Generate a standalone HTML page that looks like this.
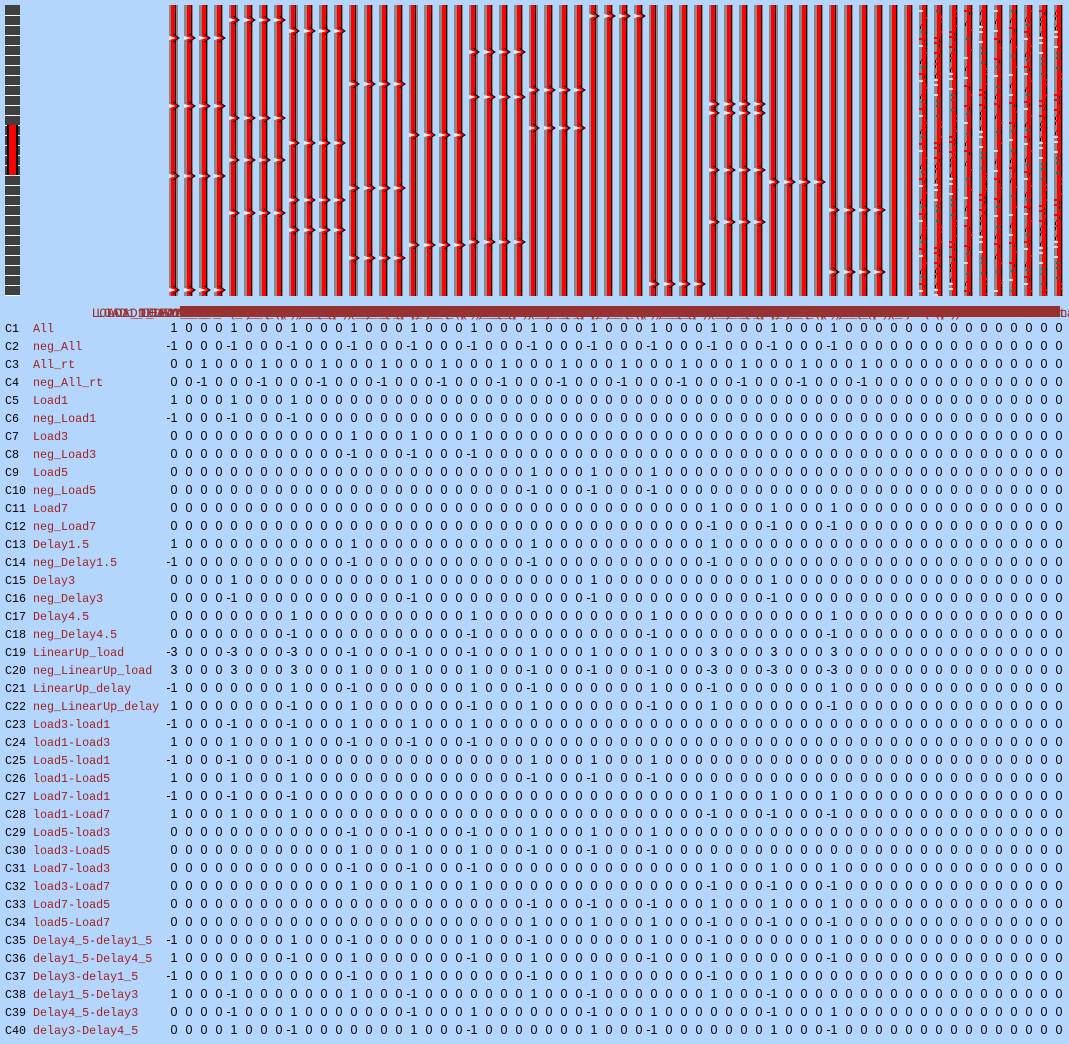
<!DOCTYPE html>
<html><head><meta charset="utf-8"><style>
html,body{margin:0;padding:0;background:#b4d6fc;width:1069px;height:1044px;overflow:hidden}
svg{display:block}
</style></head><body>
<svg id="chart" width="1069" height="1044" viewBox="0 0 1069 1044" xmlns="http://www.w3.org/2000/svg">
<rect x="0" y="0" width="1069" height="1044" fill="#b4d6fc"/>
<g id="leftbar"></g>
<g id="dm"></g>
<g id="hdr"></g>
<g id="tbl"></g>
</svg>
<script>
const contrastNames = ["All","neg_All","All_rt","neg_All_rt","Load1","neg_Load1","Load3","neg_Load3","Load5","neg_Load5","Load7","neg_Load7","Delay1.5","neg_Delay1.5","Delay3","neg_Delay3","Delay4.5","neg_Delay4.5","LinearUp_load","neg_LinearUp_load","LinearUp_delay","neg_LinearUp_delay","Load3-load1","load1-Load3","Load5-load1","load1-Load5","Load7-load1","load1-Load7","Load5-load3","load3-Load5","Load7-load3","load3-Load7","Load7-load5","load5-Load7","Delay4_5-delay1_5","delay1_5-Delay4_5","Delay3-delay1_5","delay1_5-Delay3","Delay4_5-delay3","delay3-Delay4_5"];
// condition weights (12 conditions, placed on column 4k)
const condWeights = [
[1,1,1,1,1,1,1,1,1,1,1,1],[-1,-1,-1,-1,-1,-1,-1,-1,-1,-1,-1,-1],
[0,0,0,0,0,0,0,0,0,0,0,0],[0,0,0,0,0,0,0,0,0,0,0,0],
[1,1,1,0,0,0,0,0,0,0,0,0],[-1,-1,-1,0,0,0,0,0,0,0,0,0],
[0,0,0,1,1,1,0,0,0,0,0,0],[0,0,0,-1,-1,-1,0,0,0,0,0,0],
[0,0,0,0,0,0,1,1,1,0,0,0],[0,0,0,0,0,0,-1,-1,-1,0,0,0],
[0,0,0,0,0,0,0,0,0,1,1,1],[0,0,0,0,0,0,0,0,0,-1,-1,-1],
[1,0,0,1,0,0,1,0,0,1,0,0],[-1,0,0,-1,0,0,-1,0,0,-1,0,0],
[0,1,0,0,1,0,0,1,0,0,1,0],[0,-1,0,0,-1,0,0,-1,0,0,-1,0],
[0,0,1,0,0,1,0,0,1,0,0,1],[0,0,-1,0,0,-1,0,0,-1,0,0,-1],
[-3,-3,-3,-1,-1,-1,1,1,1,3,3,3],[3,3,3,1,1,1,-1,-1,-1,-3,-3,-3],
[-1,0,1,-1,0,1,-1,0,1,-1,0,1],[1,0,-1,1,0,-1,1,0,-1,1,0,-1],
[-1,-1,-1,1,1,1,0,0,0,0,0,0],[1,1,1,-1,-1,-1,0,0,0,0,0,0],
[-1,-1,-1,0,0,0,1,1,1,0,0,0],[1,1,1,0,0,0,-1,-1,-1,0,0,0],
[-1,-1,-1,0,0,0,0,0,0,1,1,1],[1,1,1,0,0,0,0,0,0,-1,-1,-1],
[0,0,0,-1,-1,-1,1,1,1,0,0,0],[0,0,0,1,1,1,-1,-1,-1,0,0,0],
[0,0,0,-1,-1,-1,0,0,0,1,1,1],[0,0,0,1,1,1,0,0,0,-1,-1,-1],
[0,0,0,0,0,0,-1,-1,-1,1,1,1],[0,0,0,0,0,0,1,1,1,-1,-1,-1],
[-1,0,1,-1,0,1,-1,0,1,-1,0,1],[1,0,-1,1,0,-1,1,0,-1,1,0,-1],
[-1,1,0,-1,1,0,-1,1,0,-1,1,0],[1,-1,0,1,-1,0,1,-1,0,1,-1,0],
[0,-1,1,0,-1,1,0,-1,1,0,-1,1],[0,1,-1,0,1,-1,0,1,-1,0,1,-1]
];
// rt regressor weights (column 4k+2), only for All_rt / neg_All_rt
const rtWeights = [0,0,1,-1,0,0,0,0,0,0,0,0,0,0,0,0,0,0,0,0,0,0,0,0,0,0,0,0,0,0,0,0,0,0,0,0,0,0,0,0];
const nCols = 60;
const condLabels = ["LOAD1_DELAY1_5","LOAD1_DELAY3","LOAD1_DELAY4_5","LOAD3_DELAY1_5","LOAD3_DELAY3","LOAD3_DELAY4_5","LOAD5_DELAY1_5","LOAD5_DELAY3","LOAD5_DELAY4_5","LOAD7_DELAY1_5","LOAD7_DELAY3","LOAD7_DELAY4_5"];
const eventTimes = [[38,106,176,290],[20,118,160,213],[31,143,200,230],[84,188,258],[135,245],[52,97,242],[90,128],[16],[284],[104,113,170,222],[182],[210,272]];

const NS="http://www.w3.org/2000/svg";
function mk(tag,attrs,parent){const e=document.createElementNS(NS,tag);for(const k in attrs)e.setAttribute(k,attrs[k]);parent.appendChild(e);return e;}
const colX = i => 174 + 15*i;
const rowY = r => 328 + 18*r;

// left selector bar
const lb=document.getElementById('leftbar');
mk('rect',{x:5,y:5,width:15,height:291,fill:'#404040'},lb);
for(let y=15;y<296;y+=10) mk('rect',{x:5,y:y,width:15,height:1,fill:'#ffffff'},lb);
mk('rect',{x:7,y:125,width:11,height:50,fill:'#000'},lb);
mk('rect',{x:9,y:125,width:7,height:50,fill:'#ff0000'},lb);

// design matrix
const dm=document.getElementById('dm');
for(let i=0;i<nCols;i++){
  const x=colX(i)-5;
  const g=mk('g',{},dm);
  
  
  mk('rect',{x:x,y:5,width:9,height:291,fill:'#888888'},g);
  if(i<48){
    const k=Math.floor(i/4);
    const off = (i%4===0)?2:3;
    mk('rect',{x:x+off,y:5,width:4,height:291,fill:'#ff0000'},g);
    mk('rect',{x:x+off+4,y:5,width:1,height:291,fill:'#000'},g);
    eventTimes[k].forEach(t=>{
      mk('polygon',{points:`${x},${t-2} ${x+8},${t} ${x},${t+2}`,fill:'#e8e8e8'},g);
      mk('path',{d:`M${x+off} ${t-4} L${x+off+6} ${t} L${x+off} ${t+4}`,stroke:'#ff0000','stroke-width':2,fill:'none'},g);
      mk('path',{d:`M${x+off+2} ${t-4} L${x+off+8} ${t} L${x+off+2} ${t+4}`,stroke:'#000','stroke-width':1,fill:'none'},g);
    });
  } else {
    mk('rect',{x:x+3,y:5,width:4,height:291,fill:'#ff0000'},g);
    mk('rect',{x:x+7,y:5,width:1,height:291,fill:'#000'},g);
    if(i>=50){
      for(let y=10;y<296;y+=5+((i*13+y)%7)){
        const m=(y+i)%5;
        mk('rect',{x:x+(m%3)*2,y:y,width:4,height:2,fill:m===0?'#dddddd':(m===1?'#555':'#ff0000')},g);
        if(m>2) mk('rect',{x:x+1+(m%2)*4,y:y+2,width:1,height:3,fill:'#000'},g);
      }
    }
  }
}

// header labels
const hd=document.getElementById('hdr');
mk('rect',{x:180,y:306,width:880,height:11,fill:'#963030'},hd);
for(let i=0;i<nCols;i++){
  let lab;
  if(i<48){const k=Math.floor(i/4);lab=condLabels[k]+['*bf(1)','xrt^1*bf(1)','xrt^1*bf(1)','*bf(2)'][i%4];}
  else lab = i<54 ? 'R'+(i-47) : 'constant';
  const t=mk('text',{x:colX(i),y:317,'text-anchor':'middle','font-family':'"Liberation Mono",monospace','font-size':13,fill:'#993333'},hd);
  t.textContent=lab;
  
  
}

// contrast table
const tb=document.getElementById('tbl');
contrastNames.forEach((nm,r)=>{
  const y=rowY(r)+4;
  const g=mk('g',{},tb);
  
  
  const c=mk('text',{x:5,y:y,'font-family':'"Liberation Mono",monospace','font-size':11.7,fill:'#000'},g);
  c.textContent='C'+(r+1);
  const n=mk('text',{x:33,y:y,'font-family':'"Liberation Mono",monospace','font-size':11.7,fill:'#a02020'},g);
  n.textContent=nm;
  
  
  for(let i=0;i<nCols;i++){
    let v=0;
    if(i<48){const k=Math.floor(i/4);if(i%4===0)v=condWeights[r][k];else if(i%4===2)v=rtWeights[r];}
    const t=mk('text',{x:colX(i)+3.5,y:y,'text-anchor':'end','font-family':'"Liberation Sans",sans-serif','font-size':12.5,fill:'#000'},g);
    t.textContent=String(v);
  }
});
</script>
</body></html>
